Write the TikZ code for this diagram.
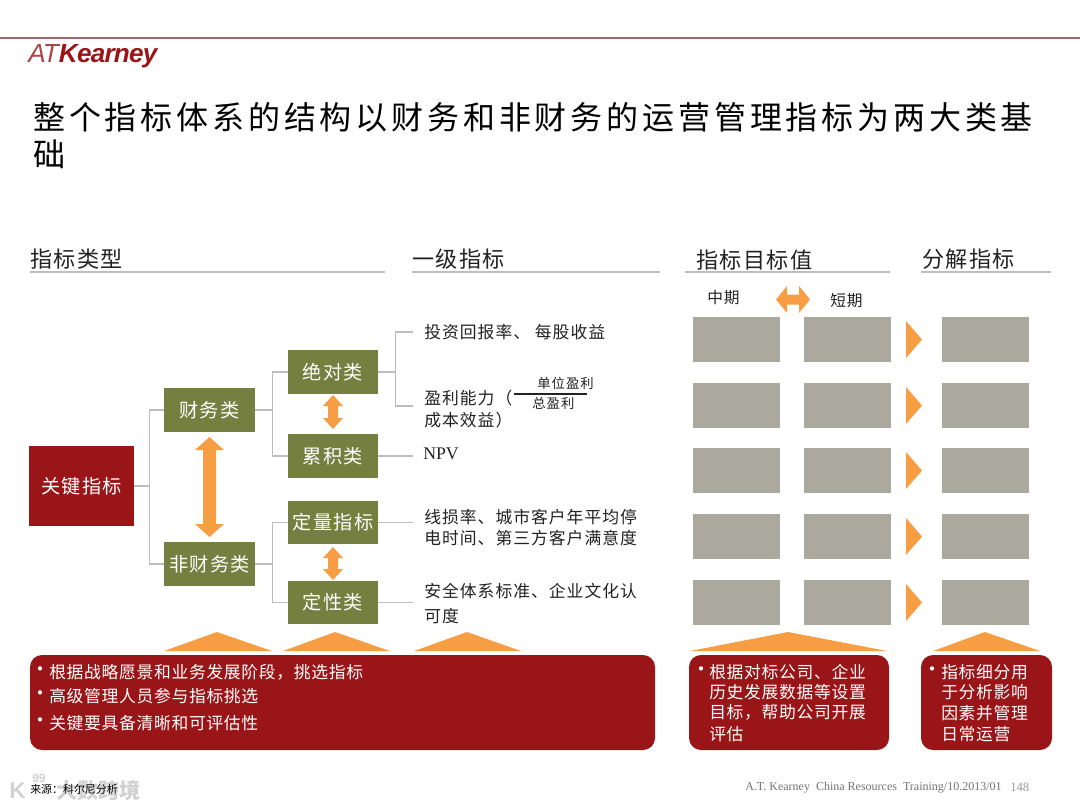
\documentclass[tikz,border=0pt]{standalone}
\usepackage{fontspec}
\setmainfont{Noto Sans CJK SC}
\newfontfamily\serifl{Liberation Serif}
\newfontfamily\sansl{Liberation Sans}
\definecolor{brandred}{HTML}{9A1518}
\definecolor{olivebox}{HTML}{757F3F}
\definecolor{orangeacc}{HTML}{F79E45}
\definecolor{greybox}{HTML}{ABA89E}
\definecolor{linegrey}{HTML}{BDBDBD}
\definecolor{toprule}{HTML}{A5666C}
\definecolor{inktext}{HTML}{222222}
\newcommand{\spaced}[2]{\fontsize{#1pt}{#1pt}\selectfont\addfontfeature{LetterSpace=#2}}
% centre x, top y, bottom y, half head, half shaft, head length
\newcommand{\orangeV}[6]{\fill[orangefill] (#1,#2) -- (#1+#4,#2+#6) -- (#1+#5,#2+#6) -- (#1+#5,#3-#6) -- (#1+#4,#3-#6) -- (#1,#3) -- (#1-#4,#3-#6) -- (#1-#5,#3-#6) -- (#1-#5,#2+#6) -- (#1-#4,#2+#6) -- cycle;}
\tikzset{
  x=0.75pt,y=-0.75pt,
  redbox/.style={fill=brandred,draw=none,text=white,anchor=center,inner sep=0pt,font=\spaced{14.4}{7}},
  olivenode/.style={fill=olivebox,draw=none,text=white,anchor=center,inner sep=0pt,font=\spaced{14.4}{7}},
  greyblock/.style={fill=greybox,draw=none},
  link/.style={draw=linegrey,line width=1.1pt},
  headrule/.style={draw=linegrey,line width=1.2pt},
  headtext/.style={anchor=west,inner sep=0pt,text=inktext,font=\spaced{16.6}{6}},
  itemtext/.style={anchor=west,inner sep=0pt,text=inktext,font=\spaced{12.6}{6}},
  smalltext/.style={anchor=west,inner sep=0pt,text=inktext,font=\spaced{10}{8}},
  pan/.style={fill=brandred,draw=none,rounded corners=9pt},
  pantext/.style={anchor=west,inner sep=0pt,text=white,font=\spaced{12.6}{4}},
  panbullet/.style={anchor=west,inner sep=0pt,text=white,font=\spaced{15}{0}},
  orangefill/.style={fill=orangeacc,draw=none},
}
\begin{document}
\begin{tikzpicture}
\useasboundingbox (0,0) rectangle (1080,810);
\fill[white] (0,0) rectangle (1080,810);
% header
\coordinate (ruleL) at (0,38); \coordinate (ruleR) at (1080,38);
\draw[toprule,line width=0.9pt] (ruleL) -- (ruleR);
\node[anchor=west,inner sep=0pt,text=brandred,font=\sansl\fontsize{19.6pt}{20pt}\selectfont] (logo) at (28,56) {\addfontfeature{LetterSpace=-3}\itshape{\color{brandred!80}AT}\textbf{Kearney}};
\node[anchor=west,inner sep=0pt,text=black,font=\spaced{24}{12}] (title1) at (33,117) {整个指标体系的结构以财务和非财务的运营管理指标为两大类基};
\node[anchor=west,inner sep=0pt,text=black,font=\spaced{24}{12}] (title2) at (33,154) {础};
% section heads
\node[headtext] (h1) at (30,259) {指标类型};
\node[headtext] (h2) at (412,259) {一级指标};
\node[headtext] (h3) at (696,260) {指标目标值};
\node[headtext] (h4) at (922,259) {分解指标};
\draw[headrule] (30,272) -- (385,272);
\draw[headrule] (412,272) -- (660,272);
\draw[headrule] (685,272) -- (890,272);
\draw[headrule] (921,272) -- (1051,272);
% tree boxes
\node[redbox,minimum width=78.75pt,minimum height=60pt] (key) at (81.5,486) {关键指标};
\node[olivenode,minimum width=68.25pt,minimum height=33pt] (fin) at (209.5,410) {财务类};
\node[olivenode,minimum width=68.25pt,minimum height=33pt] (nonfin) at (209.5,564) {非财务类};
\node[olivenode,minimum width=67.5pt,minimum height=32.5pt] (abs) at (333,372) {绝对类};
\node[olivenode,minimum width=67.5pt,minimum height=33pt] (acc) at (333,456) {累积类};
\node[olivenode,minimum width=67.5pt,minimum height=32.5pt] (quant) at (333,522.5) {定量指标};
\node[olivenode,minimum width=67.5pt,minimum height=32.5pt] (qual) at (333,602.5) {定性类};
% connectors
\draw[link] (key.east) -- ++(15,0) coordinate (kj) (fin.west) -| (kj) |- (nonfin.west);
\draw[link] (fin.east) -- ++(17,0) coordinate (fj) (abs.west) -| (fj) |- (acc.west);
\draw[link] (nonfin.east) -- ++(17,0) coordinate (nj) (quant.west) -| (nj) |- (qual.west);
\coordinate (t1) at (413,332); \coordinate (t2) at (413,406);
\draw[link] (abs.east) -- ++(17,0) coordinate (aj) (t1) -| (aj) |- (t2);
\coordinate (t3) at (413,456); \draw[link] (acc.east) -- (t3);
\coordinate (t4) at (413,522.5); \draw[link] (quant.east) -- (t4);
\coordinate (t5) at (413,602.5); \draw[link] (qual.east) -- (t5);
% orange double arrows
\orangeV{209.5}{437}{537}{14.5}{6.5}{13}
\orangeV{333}{395}{429}{10}{5}{11}
\orangeV{333}{547}{580}{10}{5}{11}
\fill[orangefill] (776,299.5) -- (787,286) -- (787,294.5) -- (799,294.5) -- (799,286) -- (810,299.5) -- (799,313) -- (799,304.5) -- (787,304.5) -- (787,313) -- cycle;
% item texts
\node[itemtext] (i1) at (424,332) {投资回报率、 每股收益};
\node[itemtext] (i2) at (424,398) {盈利能力（};
\node[smalltext] (f1) at (537,383) {单位盈利};
\node[smalltext] (f2) at (532,403) {总盈利};
\coordinate (fr1) at (514,394); \coordinate (fr2) at (587,394);
\draw[inktext,line width=0.9pt] (fr1) -- (fr2);
\node[itemtext] (i3) at (424,420) {成本效益）};
\node[anchor=west,inner sep=0pt,text=inktext,font=\serifl\fontsize{13.3pt}{16pt}\selectfont] (npv) at (423,454) {NPV};
\node[itemtext] (i4) at (424,517) {线损率、城市客户年平均停};
\node[itemtext] (i5) at (424,538) {电时间、第三方客户满意度};
\node[itemtext] (i6) at (424,591) {安全体系标准、企业文化认};
\node[itemtext] (i7) at (424,616) {可度};
\node[anchor=west,inner sep=0pt,text=inktext,font=\spaced{11.8}{5}] (mid) at (707,298) {中期};
\node[anchor=west,inner sep=0pt,text=inktext,font=\spaced{11.8}{5}] (short) at (830,301) {短期};
% grey rows and triangles
\foreach \n/\ya in {1/317,2/383,3/448,4/514,5/580}{
  \fill[greyblock] (693,\ya) rectangle +(87,45);
  \fill[greyblock] (804,\ya) rectangle +(87,45);
  \fill[greyblock] (942,\ya) rectangle +(87,45);
  \fill[orangefill] (906,\ya+4) -- (922,\ya+22.5) -- (906,\ya+41) -- cycle;
}
% up triangles
\fill[orangefill] (164,651) -- (217,632) -- (272,651) -- cycle;
\fill[orangefill] (283,651) -- (335,632) -- (390,651) -- cycle;
\fill[orangefill] (414,651) -- (467,632) -- (521,651) -- cycle;
\fill[orangefill] (690,651) -- (788,632) -- (887,651) -- cycle;
\fill[orangefill] (933,651) -- (985,632) -- (1040,651) -- cycle;
% bottom panels
\fill[pan] (30,655) rectangle (655,750);
\fill[pan] (689,655) rectangle (889,750);
\fill[pan] (921,655) rectangle (1052,750);
\node[panbullet] (b0) at (30,672) {•};
\node[pantext] (b1) at (49,672) {根据战略愿景和业务发展阶段，挑选指标};
\node[panbullet] (c0) at (30,696) {•};
\node[pantext] (b2) at (49,696) {高级管理人员参与指标挑选};
\node[panbullet] (d0) at (30,723) {•};
\node[pantext] (b3) at (49,723) {关键要具备清晰和可评估性};
\node[panbullet] (e0) at (691,672) {•};
\node[pantext] (m1) at (709,672) {根据对标公司、企业};
\node[pantext] (m2) at (709,692) {历史发展数据等设置};
\node[pantext] (m3) at (709,712) {目标，帮助公司开展};
\node[pantext] (m4) at (709,734) {评估};
\node[panbullet] (g0) at (922,672) {•};
\node[pantext] (r1) at (941,672) {指标细分用};
\node[pantext] (r2) at (941,692) {于分析影响};
\node[pantext] (r3) at (941,713) {因素并管理};
\node[pantext] (r4) at (941,734) {日常运营};
% watermark
\node[anchor=west,inner sep=0pt,text=black!18,font=\bfseries\fontsize{15.8pt}{18pt}\selectfont] (wm) at (56,790) {大数跨境};
\node[anchor=west,inner sep=0pt,text=black!18,font=\sansl\bfseries\fontsize{17pt}{20pt}\selectfont] (wk) at (9,791) {K};
\node[anchor=west,inner sep=0pt,text=black!18,font=\sansl\bfseries\fontsize{9pt}{10pt}\selectfont] (wn) at (32,778) {99};
% footer
\node[anchor=west,inner sep=0pt,text=black,font=\fontsize{8.2pt}{10pt}\selectfont] (src) at (30,789) {来源：科尔尼分析};
\node[anchor=west,inner sep=0pt,text=black!55,font=\serifl\fontsize{9pt}{10pt}\selectfont] (foot) at (745,788) {A.T. Kearney\ \ China Resources\ \ Training/10.2013/01};
\node[anchor=west,inner sep=0pt,text=black!40,font=\serifl\fontsize{9.5pt}{10pt}\selectfont] (page) at (1010,787) {148};
\end{tikzpicture}
\end{document}
